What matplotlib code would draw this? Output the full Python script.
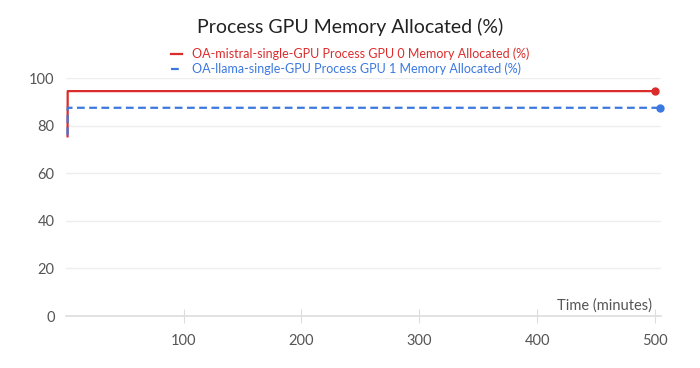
import matplotlib
matplotlib.use("Agg")
import matplotlib.pyplot as plt

plt.rcParams['font.family'] = ['Lato', 'DejaVu Sans']

# data
red_label = 'OA-mistral-single-GPU Process GPU 0 Memory Allocated (%)'
red_t = [1.5, 1.6, 500]
red_v = [75.5, 94.5, 94.5]

blue_label = 'OA-llama-single-GPU Process GPU 1 Memory Allocated (%)'
blue_t = [1.5, 1.6, 504]
blue_v = [76.0, 87.5, 87.5]

x_ticks = [100, 200, 300, 400, 500]
y_ticks = [0, 20, 40, 60, 80, 100]

red = '#db2c2c'
blue = '#3b78e0'
grey = '#555555'

fig = plt.figure(figsize=(7, 3.68), dpi=100)
ax = fig.add_axes([0.094, 0.141, 0.85, 0.647])

ax.plot(red_t, red_v, color=red, lw=1.6, label=red_label)
ax.plot(blue_t, blue_v, color=blue, lw=1.6, ls=(0, (3.5, 2)), label=blue_label)
ax.plot(red_t[-1:], red_v[-1:], 'o', color=red, ms=5, clip_on=False)
ax.plot(blue_t[-1:], blue_v[-1:], 'o', color=blue, ms=5, clip_on=False)

ax.set_xlim(0, 505)
ax.set_ylim(0, 100)
ax.set_xticks(x_ticks)
ax.set_yticks(y_ticks)
ax.grid(axis='y', color='#eeeeee', lw=1)
ax.set_axisbelow(True)
for s in ['top', 'right', 'left']:
    ax.spines[s].set_visible(False)
ax.spines['bottom'].set_color('#dddddd')
ax.spines['bottom'].set_linewidth(1.2)
ax.tick_params(axis='x', direction='inout', length=10, color='#dddddd',
               labelsize=10.5, labelcolor=grey, pad=8)
ax.tick_params(axis='y', length=0, labelsize=10.5, labelcolor=grey, pad=8)
ax.text(0.986, 0.015, 'Time (minutes)', transform=ax.transAxes, ha='right',
        va='bottom', fontsize=10.5, color=grey)

fig.suptitle('Process GPU Memory Allocated (%)', x=0.5, y=0.95, fontsize=14,
             color='#222222')
leg = fig.legend(loc='upper center', bbox_to_anchor=(0.5, 0.888), ncol=1,
                 frameon=False, fontsize=9, handlelength=0.9,
                 handletextpad=0.8, labelspacing=0.2, borderpad=0)
for txt, c in zip(leg.get_texts(), [red, blue]):
    txt.set_color(c)

fig.savefig('out.png', dpi=100)
